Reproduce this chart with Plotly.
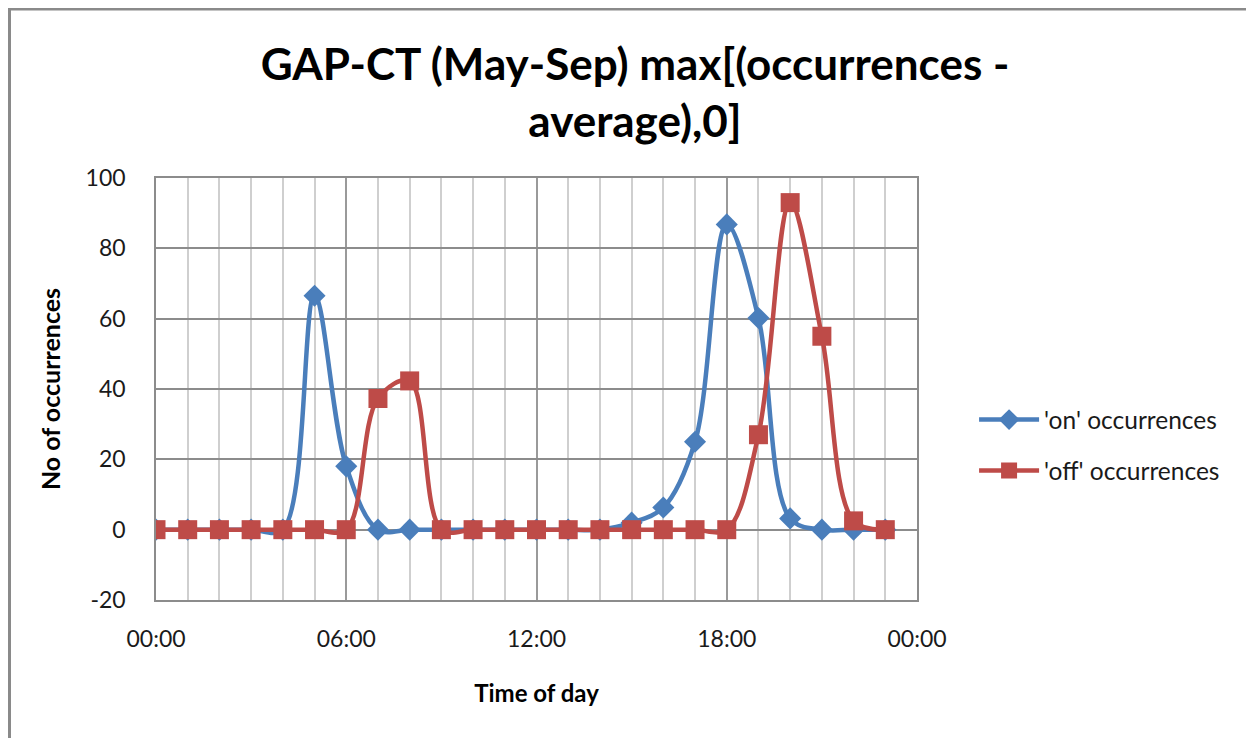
import plotly.graph_objects as go

hours = [0, 1, 2, 3, 4, 5, 6, 7, 8, 9, 10, 11, 12, 13, 14, 15, 16, 17, 18, 19, 20, 21, 22, 23]
on_occ = [0, 0, 0, 0, 0, 66.5, 18, 0, 0, 0, 0, 0, 0, 0, 0, 2, 6.3, 25, 86.8, 60.2, 3.2, 0, 0, 0]
off_occ = [0, 0, 0, 0, 0, 0, 0, 37.3, 42.3, 0, 0, 0, 0, 0, 0, 0, 0, 0, 0, 27, 93, 55, 2.5, 0]
x_tick_vals = [0, 6, 12, 18, 24]
x_tick_text = ["00:00", "06:00", "12:00", "18:00", "00:00"]
y_tick_vals = [-20, 0, 20, 40, 60, 80, 100]
y_tick_text = ["-20", "0", "20", "40", "60", "80", "100"]

FONT = "Lato"
BLUE = "#4A7EBB"
RED = "#BE4B48"

fig = go.Figure()
fig.add_trace(go.Scatter(
    x=hours, y=on_occ, name="'on' occurrences", mode="lines+markers",
    legendgroup="on",
    line=dict(color=BLUE, width=4.5, shape="spline", smoothing=1.0),
    marker=dict(symbol="diamond", size=17, color=BLUE),
))
fig.add_trace(go.Scatter(
    x=hours, y=off_occ, name="'off' occurrences", mode="lines+markers",
    legendgroup="off",
    line=dict(color=RED, width=4.5, shape="spline", smoothing=1.0),
    marker=dict(symbol="square", size=19, color=RED),
))

fig.update_layout(
    width=1254, height=738,
    margin=dict(l=148, r=345, t=170, b=146, autoexpand=False),
    paper_bgcolor="white", plot_bgcolor="white",
    font=dict(family=FONT, color="#000000"),
    title=dict(
        text="<b>GAP-CT (May-Sep) max[(occurrences -<br>average),0]</b>",
        x=0.5, xanchor="center", xref="container",
        y=0.903, yanchor="middle", yref="container",
        font=dict(size=44, family=FONT, color="#000000"),
    ),
    showlegend=True,
    legend=dict(
        x=1.075, y=0.367, xanchor="left", yanchor="middle",
        font=dict(size=24.5, family=FONT, color="#1a1a1a"),
        tracegroupgap=16, itemwidth=60,
        bgcolor="rgba(0,0,0,0)",
    ),
    shapes=[dict(
        type="rect", xref="paper", yref="paper",
        x0=-0.1925, x1=1.4435, y0=-0.5, y1=1.4005,
        line=dict(color="#8a8a8a", width=3), fillcolor="rgba(0,0,0,0)",
        layer="below",
    )],
)

fig.update_xaxes(
    range=[0, 24], tickvals=x_tick_vals, ticktext=x_tick_text,
    showgrid=True, gridcolor="#9a9a9a", gridwidth=1.5,
    minor=dict(dtick=1, showgrid=True, gridcolor="#cfcfcf", gridwidth=1.5, ticks=""),
    showline=True, linecolor="#8c8c8c", linewidth=1.5, mirror=True,
    ticks="", ticklabelstandoff=18, automargin=False,
    tickfont=dict(size=23, family=FONT, color="#1a1a1a"),
    title=dict(text="<b>Time of day</b>", font=dict(size=24, family=FONT, color="#000000"), standoff=34),
    zeroline=False,
)
fig.update_yaxes(
    range=[-20, 100], tickvals=y_tick_vals, ticktext=y_tick_text,
    showgrid=True, gridcolor="#8c8c8c", gridwidth=1.5,
    showline=True, linecolor="#8c8c8c", linewidth=1.5, mirror=True,
    ticks="", ticklabelstandoff=24, automargin=False,
    tickfont=dict(size=23, family=FONT, color="#1a1a1a"),
    title=dict(text="<b>No of occurrences</b>", font=dict(size=25, family=FONT, color="#000000"), standoff=18),
    zeroline=False,
)

fig.write_html("out.html")
